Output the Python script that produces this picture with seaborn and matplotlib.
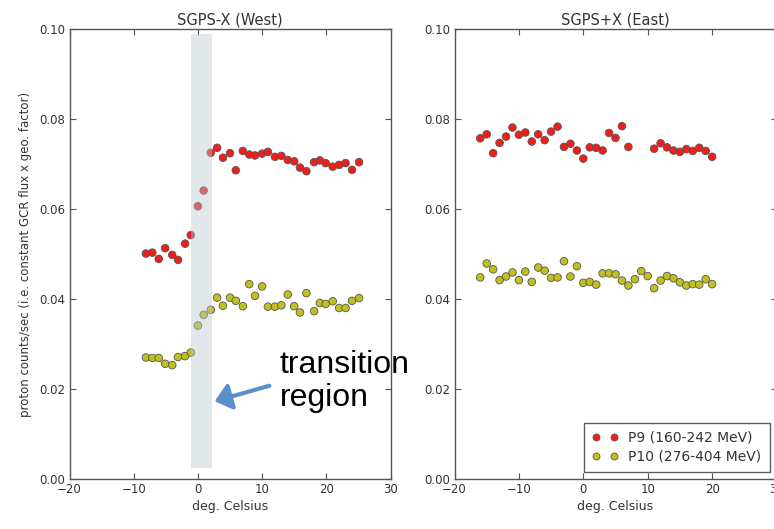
import numpy as np
import pandas as pd
import matplotlib
matplotlib.use("Agg")
import matplotlib.pyplot as plt
import seaborn as sns

# ---------------- data ----------------
west_temp = [-8.1, -7.1, -6.1, -5.1, -4.0, -3.1, -2.0, -1.1, 0.0, 0.9,
             2.0, 3.0, 3.9, 5.0, 5.9, 7.0, 8.0, 8.9, 10.0, 10.9,
             12.0, 13.0, 14.0, 15.0, 15.9, 16.9, 18.1, 19.0, 19.9, 21.0,
             22.0, 23.0, 24.0, 25.1]
west_p9 = [0.0501, 0.0503, 0.0489, 0.0513, 0.0498, 0.0487, 0.0523, 0.0542, 0.0606, 0.0641,
           0.0725, 0.0736, 0.0714, 0.0724, 0.0686, 0.0729, 0.0721, 0.0719, 0.0723, 0.0727,
           0.0716, 0.0718, 0.0709, 0.0706, 0.0692, 0.0684, 0.0704, 0.0708, 0.0702, 0.0694,
           0.0698, 0.0702, 0.0687, 0.0704]
west_p10 = [0.0270, 0.0269, 0.0269, 0.0256, 0.0253, 0.0271, 0.0273, 0.0281, 0.0341, 0.0365,
            0.0376, 0.0403, 0.0385, 0.0403, 0.0396, 0.0384, 0.0433, 0.0407, 0.0428, 0.0383,
            0.0383, 0.0386, 0.0410, 0.0384, 0.0370, 0.0413, 0.0373, 0.0391, 0.0389, 0.0395,
            0.0380, 0.0380, 0.0396, 0.0402]

east_temp = [-16, -15, -14, -13, -12, -11, -10, -9, -8, -7,
             -6, -5, -4, -3, -2, -1, 0, 1, 2, 3,
             4, 5, 6, 7, 8, 9, 10, 11, 12, 13,
             14, 15, 16, 17, 18, 19, 20]
east_p9 = [0.0757, 0.0766, 0.0724, 0.0747, 0.0761, 0.0781, 0.0765, 0.0770, 0.0750, 0.0766,
           0.0753, 0.0772, 0.0783, 0.0738, 0.0745, 0.0730, 0.0712, 0.0737, 0.0736, 0.0730,
           0.0769, 0.0758, 0.0784, 0.0738, np.nan, np.nan, np.nan, 0.0734, 0.0746, 0.0737,
           0.0730, 0.0727, 0.0733, 0.0729, 0.0736, 0.0729, 0.0716]
east_p10 = [0.0448, 0.0479, 0.0466, 0.0442, 0.0450, 0.0459, 0.0442, 0.0461, 0.0438, 0.0470,
            0.0463, 0.0447, 0.0448, 0.0484, 0.0450, 0.0473, 0.0436, 0.0438, 0.0432, 0.0457,
            0.0457, 0.0455, 0.0441, 0.0430, 0.0444, 0.0462, 0.0451, 0.0424, 0.0441, 0.0451,
            0.0446, 0.0437, 0.0430, 0.0433, 0.0432, 0.0444, 0.0433]

series_labels = ["P9 (160-242 MeV)", "P10 (276-404 MeV)"]
panel_titles = ["SGPS-X (West)", "SGPS+X (East)"]
x_ticks = [-20, -10, 0, 10, 20, 30]
y_ticks = [0.00, 0.02, 0.04, 0.06, 0.08, 0.10]
transition_span = (-1.1, 2.2)


def long_frame(temp, p9, p10):
    df = pd.DataFrame({
        "temp": list(temp) * 2,
        "rate": list(p9) + list(p10),
        "channel": [series_labels[0]] * len(temp) + [series_labels[1]] * len(temp),
    })
    return df.dropna()


west_df = long_frame(west_temp, west_p9, west_p10)
east_df = long_frame(east_temp, east_p9, east_p10)

# ---------------- style ----------------
sns.set_style("ticks")
plt.rcParams["font.family"] = ["DejaVu Sans"]
text_c = "#333333"
palette = {series_labels[0]: "#f21c1c", series_labels[1]: "#c2c01c"}

fig = plt.figure(figsize=(7.74, 5.29), dpi=100)
ax1 = fig.add_axes([69.5 / 774, 1 - 479 / 529, 321 / 774, 450 / 529])
ax2 = fig.add_axes([454.5 / 774, 1 - 479 / 529, 322 / 774, 450 / 529])

for ax, df, title in [(ax1, west_df, panel_titles[0]), (ax2, east_df, panel_titles[1])]:
    sns.scatterplot(data=df, x="temp", y="rate", hue="channel", palette=palette,
                    hue_order=series_labels, s=30, edgecolor="#555555", linewidth=0.6,
                    ax=ax, legend=(ax is ax2), zorder=2)
    ax.set_xlim(-20, 30)
    ax.set_ylim(0, 0.10)
    ax.set_xticks(x_ticks)
    ax.set_yticks(y_ticks)
    ax.set_xticklabels(["\u2212" + str(-t) if t < 0 else str(t) for t in x_ticks])
    ax.set_yticklabels([f"{t:.2f}" for t in y_ticks])
    ax.tick_params(direction="in", top=True, right=True, length=4, width=0.8,
                   color="#555555", labelsize=8.5, labelcolor=text_c, pad=3)
    for sp in ax.spines.values():
        sp.set_visible(True)
        sp.set_color("#555555")
        sp.set_linewidth(1.0)
    ax.set_title(title, fontsize=10.5, color=text_c, pad=3)
    ax.set_xlabel("deg. Celsius", fontsize=9, color=text_c, labelpad=3)
    ax.set_ylabel("")

ax1.set_ylabel("proton counts/sec (i.e. constant GCR flux x geo. factor)",
               fontsize=8.5, color=text_c, labelpad=5)

# transition region shading
ax1.axvspan(transition_span[0], transition_span[1], ymin=0.024, ymax=0.989,
            color="#bcc8cf", alpha=0.42, lw=0, zorder=3)

# legend
handles, labels = ax2.get_legend_handles_labels()
ax2.get_legend().remove()
for h in handles:
    try:
        h.set_markersize(5)
    except Exception:
        pass
leg = ax2.legend(handles, labels, loc="lower right", numpoints=2, scatterpoints=2,
                 handlelength=1.9, fontsize=10, frameon=True, fancybox=False,
                 edgecolor="#333333", borderaxespad=0.5, labelspacing=0.35,
                 handletextpad=0.7, borderpad=0.6)
leg.get_frame().set_linewidth(1.0)
for t in leg.get_texts():
    t.set_color(text_c)

# annotation
fig.text(280 / 774, 1 - 350 / 529, "transition\nregion", fontsize=23,
         family=["Liberation Sans", "DejaVu Sans"], color="black",
         ha="left", va="top", linespacing=1.15)
fig.patches.append(matplotlib.patches.FancyArrowPatch(
    (272 / 774, 1 - 385 / 529), (212 / 774, 1 - 402 / 529),
    transform=fig.transFigure, arrowstyle="-|>,head_length=6,head_width=5",
    color="#5b8fca", lw=3.0, mutation_scale=1.6))

fig.savefig("out.png", dpi=100)
